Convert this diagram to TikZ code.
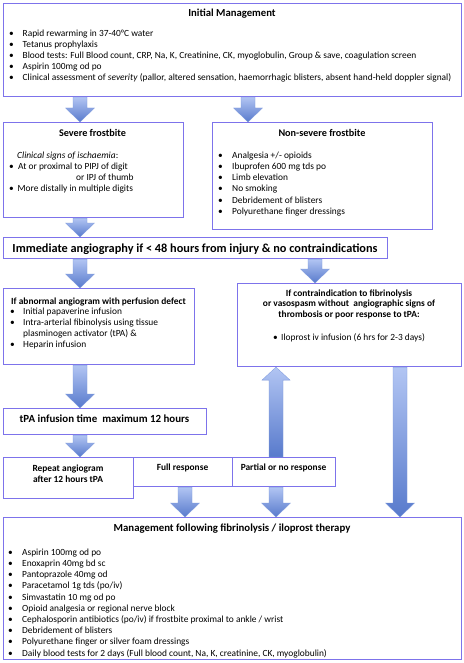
\documentclass[tikz,border=0pt]{standalone}
\usepackage{fontspec}
\setmainfont{Carlito}
\usetikzlibrary{calc}
\definecolor{boxc}{RGB}{125,115,235}
\definecolor{arl}{RGB}{178,197,243}
\definecolor{ard}{RGB}{88,122,204}
\newcommand{\bul}[1][13.5pt]{\makebox[#1][l]{•}}
\newcommand{\arrdown}[3]{%
  \path[blockarrow] let \p1=(#2), \p2=(#3) in
    (#1pt-7pt,\y1) -- (#1pt+7pt,\y1) -- (#1pt+7pt,\y2+14pt) -- (#1pt+14.5pt,\y2+14pt)
    -- (#1pt,\y2) -- (#1pt-14.5pt,\y2+14pt) -- (#1pt-7pt,\y2+14pt) -- cycle;}
\newcommand{\arrup}[3]{%
  \path[blockarrow] let \p1=(#2), \p2=(#3) in
    (#1pt-7pt,\y1) -- (#1pt+7pt,\y1) -- (#1pt+7pt,\y2-13pt) -- (#1pt+14pt,\y2-13pt)
    -- (#1pt,\y2) -- (#1pt-14pt,\y2-13pt) -- (#1pt-7pt,\y2-13pt) -- cycle;}
\begin{document}
\begin{tikzpicture}[x=1pt,y=-1pt,
  box/.style={draw=boxc, line width=1.1pt, fill=white, inner sep=0pt, anchor=north west},
  blockarrow/.style={top color=arl, bottom color=ard, draw=ard!60!arl, line width=0.3pt},
  body/.style={inner sep=0pt, anchor=base west, font=\fontsize{9.4}{11.2}\selectfont},
  hd/.style={inner sep=0pt, anchor=base, font=\bfseries\fontsize{9.4}{11}\selectfont},
]
\useasboundingbox (0,0) rectangle (463,663);
\fill[white] (0,0) rectangle (463,663);

% boxes
\node[box, minimum width=458pt, minimum height=93pt] (init) at (3,3) {};
\node[box, minimum width=180pt, minimum height=95pt] (sev) at (3,122) {};
\node[box, minimum width=220pt, minimum height=107pt] (nonsev) at (212,122) {};
\node[box, minimum width=384pt, minimum height=21pt] (angio) at (3,237) {};
\node[box, minimum width=191pt, minimum height=76pt] (abn) at (3,288) {};
\node[box, minimum width=224pt, minimum height=83pt] (contra) at (237,283) {};
\node[box, minimum width=203pt, minimum height=26pt] (tpa) at (3,408) {};
\node[box, minimum width=130pt, minimum height=41pt] (rep) at (3,457) {};
\node[box, minimum width=99pt, minimum height=29pt] (full) at (133,457) {};
\node[box, minimum width=103pt, minimum height=29pt] (part) at (232,457) {};
\node[box, minimum width=458pt, minimum height=142pt] (mgmt) at (3,517) {};

% arrows
\arrdown{80}{init.south}{sev.north}
\arrdown{248}{init.south}{nonsev.north}
\arrdown{80}{sev.south}{angio.north}
\arrdown{80}{angio.south}{abn.north}
\arrdown{315}{angio.south}{contra.north}
\arrdown{80}{abn.south}{tpa.north}
\arrdown{80}{tpa.south}{rep.north}
\arrup{276}{part.north}{contra.south}
\arrdown{400}{contra.south}{mgmt.north}
\arrdown{185}{full.south}{mgmt.north}
\arrdown{276}{part.south}{mgmt.north}

% Initial management
\node[hd, font=\bfseries\fontsize{10.7}{12}\selectfont] (initT) at (232,16.8) {Initial Management};
\node[body] (initL) at (9,36.2) {\begin{tabular}[t]{@{}l@{}}
\bul Rapid rewarming in 37-40°C water\\
\bul Tetanus prophylaxis\\
\bul Blood tests: Full Blood count, CRP, Na, K, Creatinine, CK, myoglobulin, Group \& save, coagulation screen\\
\bul Aspirin 100mg od po\\
\bul Clinical assessment of \textit{severity} (pallor, altered sensation, haemorrhagic blisters, absent hand-held doppler signal)
\end{tabular}};

% Severe
\node[hd, font=\bfseries\fontsize{10.2}{12}\selectfont] (sevT) at (92.5,136.5) {Severe frostbite};
\node[body] (sevL) at (9,158.2) {\begin{tabular}[t]{@{}l@{}}
\hspace*{8pt}\textit{Clinical signs of ischaemia}:\\
\bul[9pt]At or proximal to PIPJ of digit\\
\hspace*{67pt}or IPJ of thumb\\
\bul[8.5pt]More distally in multiple digits
\end{tabular}};

% Non-severe
\node[hd, font=\bfseries\fontsize{10.2}{12}\selectfont] (nonsevT) at (322,136.5) {Non-severe frostbite};
\node[body] (nonsevL) at (218,158.2) {\begin{tabular}[t]{@{}l@{}}
\bul[14pt]Analgesia +/- opioids\\
\bul[14pt]Ibuprofen 600 mg tds po\\
\bul[14pt]Limb elevation\\
\bul[14pt]No smoking\\
\bul[14pt]Debridement of blisters\\
\bul[14pt]Polyurethane finger dressings
\end{tabular}};

% Angiography
\node[hd, font=\bfseries\fontsize{12.3}{14}\selectfont] (angioT) at (195,252.2) {Immediate angiography if < 48 hours from injury \& no contraindications};

% Abnormal
\node[hd] (abnT) at (98.5,304.2) {If abnormal angiogram with perfusion defect};
\node[body] (abnL) at (10,314.2) {\begin{tabular}[t]{@{}l@{}}
\bul[13pt]Initial papaverine infusion\\
\bul[13pt]Intra-arterial fibinolysis using tissue\\
\hspace*{13pt}plasminogen activator (tPA) \&\\
\bul[13pt]Heparin infusion
\end{tabular}};

% Contra
\node[hd, font=\bfseries\fontsize{9.4}{10.6}\selectfont] (contraT) at (349,296.2) {\begin{tabular}[t]{@{}c@{}}
If contraindication to fibrinolysis\\
or vasospasm without\ \ angiographic signs of\\
thrombosis or poor response to tPA:
\end{tabular}};
\node[body] (contraL) at (273,340.2) {\bul[8pt]Iloprost iv infusion (6 hrs for 2-3 days)};

% tPA
\node[hd, font=\bfseries\fontsize{10.9}{12}\selectfont] (tpaT) at (104.5,422.8) {tPA infusion time\ \ maximum 12 hours};

% Repeat / responses
\node[hd] (repT) at (68,471.2) {\begin{tabular}[t]{@{}c@{}}Repeat angiogram\\after 12 hours tPA\end{tabular}};
\node[hd] (fullT) at (182.5,470.2) {Full response};
\node[hd] (partT) at (283.5,470.2) {Partial or no response};

% Management
\node[hd, font=\bfseries\fontsize{10.8}{12}\selectfont] (mgmtT) at (232,531.6) {Management following fibrinolysis / iloprost therapy};
\node[body] (mgmtL) at (8,555.2) {\begin{tabular}[t]{@{}l@{}}
\bul[14pt]Aspirin 100mg od po\\
\bul[14pt]Enoxaprin 40mg bd sc\\
\bul[14pt]Pantoprazole 40mg od\\
\bul[14pt]Paracetamol 1g tds (po/iv)\\
\bul[14pt]Simvastatin 10 mg od po\\
\bul[14pt]Opioid analgesia or regional nerve block\\
\bul[14pt]Cephalosporin antibiotics (po/iv) if frostbite proximal to ankle / wrist\\
\bul[14pt]Debridement of blisters\\
\bul[14pt]Polyurethane finger or silver foam dressings\\
\bul[14pt]Daily blood tests for 2 days (Full blood count, Na, K, creatinine, CK, myoglobulin)
\end{tabular}};
\end{tikzpicture}
\end{document}
